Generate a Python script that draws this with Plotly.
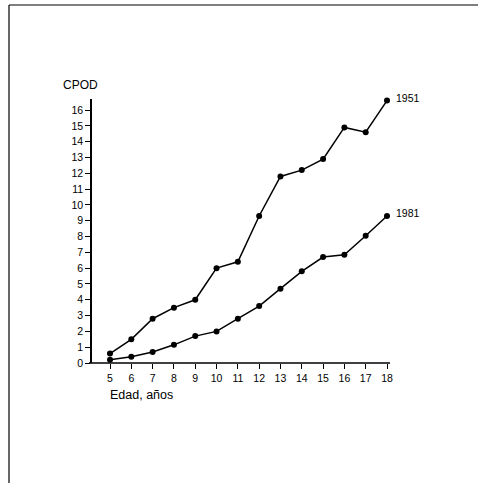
import plotly.graph_objects as go

ages = [5, 6, 7, 8, 9, 10, 11, 12, 13, 14, 15, 16, 17, 18]
cpod_1951 = [0.6, 1.5, 2.8, 3.5, 4.0, 6.0, 6.4, 9.3, 11.8, 12.2, 12.9, 14.9, 14.6, 16.6]
cpod_1981 = [0.2, 0.4, 0.7, 1.15, 1.7, 2.0, 2.8, 3.6, 4.7, 5.8, 6.7, 6.85, 8.05, 9.3]
y_ticks = list(range(0, 17))
series_names = ["1951", "1981"]

FONT = "Liberation Sans, Arial, sans-serif"

fig = go.Figure()
for name, vals in zip(series_names, [cpod_1951, cpod_1981]):
    fig.add_trace(go.Scatter(
        x=ages, y=vals, mode="lines+markers", name=name,
        line=dict(color="black", width=1.5),
        marker=dict(color="black", size=6),
        cliponaxis=False, showlegend=False,
    ))
    fig.add_annotation(x=ages[-1], y=vals[-1], text=name, showarrow=False,
                       xanchor="left", yanchor="middle", xshift=7, yshift=3,
                       font=dict(size=10.5, color="black", family=FONT))

# plot area pixels: x 92..390, y 99..363
L, R, T, B = 92, 390, 99, 363
W, H = 478, 483

def px(xp):
    return (xp - L) / (R - L)

def py(yp):
    return (B - yp) / (B - T)

fig.add_shape(type="line", xref="paper", yref="paper",
              x0=px(9), x1=px(9), y0=py(5), y1=py(483),
              line=dict(color="black", width=1.2))
fig.add_shape(type="line", xref="paper", yref="paper",
              x0=px(9), x1=px(478), y0=py(5), y1=py(5),
              line=dict(color="black", width=1.2))
# x axis line extends slightly left of y axis
fig.add_shape(type="line", xref="paper", yref="paper",
              x0=px(89), x1=px(390), y0=0, y1=0,
              line=dict(color="black", width=1.5))

fig.add_annotation(xref="paper", yref="paper", x=px(61), y=py(85),
                   text="CPOD", showarrow=False, xanchor="left", yanchor="middle",
                   font=dict(size=12, color="black", family=FONT))
fig.add_annotation(xref="paper", yref="paper", x=px(108), y=py(395),
                   text="Edad, años", showarrow=False, xanchor="left", yanchor="middle",
                   font=dict(size=12.5, color="black", family=FONT))

fig.update_xaxes(range=[5 - 18 / 21.3, 18 + 3 / 21.3],
                 tickmode="array", tickvals=ages, ticktext=[str(a) for a in ages],
                 ticks="outside", ticklen=5, tickwidth=1, tickcolor="black",
                 showline=False, showgrid=False, zeroline=False,
                 tickfont=dict(size=10.5, color="black", family=FONT))
fig.update_yaxes(range=[0, (B - T) / 15.81],
                 tickmode="array", tickvals=y_ticks, ticktext=[str(v) for v in y_ticks],
                 ticks="outside", ticklen=5, tickwidth=1, tickcolor="black",
                 showline=True, linecolor="black", linewidth=1.5,
                 showgrid=False, zeroline=False,
                 tickfont=dict(size=10.5, color="black", family=FONT))

fig.update_layout(width=W, height=H,
                  margin=dict(l=L, r=W - R, t=T, b=H - B, pad=0),
                  paper_bgcolor="white", plot_bgcolor="white")

fig.write_html("out.html")
